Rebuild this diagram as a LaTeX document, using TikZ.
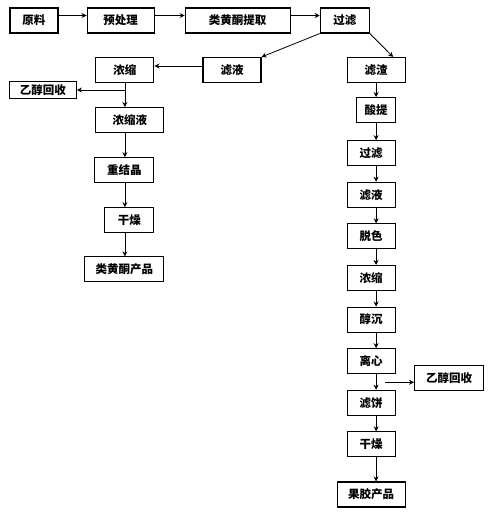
\documentclass[tikz,border=0pt]{standalone}
\usepackage{fontspec}
\usepackage{tikz}
\usetikzlibrary{arrows.meta,positioning}
\newfontfamily\cjk{Noto Sans CJK SC}
\tikzset{
  % Process step box
  pbox/.style={rectangle,draw=black,line width=1.1pt,
    minimum height=25pt,inner sep=0pt,
    font=\cjk\bfseries\fontsize{11.5}{12}\selectfont},
  % Arrows
  arr/.style={-{Stealth[length=5pt,width=5pt]},line width=0.8pt},
}
\begin{document}
\begin{tikzpicture}[x=1pt,y=-1pt]
  \useasboundingbox (0,0) rectangle (488,512);
  % top row
  \node[pbox,minimum width=48pt] (yl) at (34,20.5) {原料};
  \node[pbox,minimum width=67pt,right=28pt of yl] (yucl) {预处理};
  \node[pbox,minimum width=105pt,right=30pt of yucl] (tq) {类黄酮提取};
  \node[pbox,minimum width=49pt,right=29pt of tq] (gl) {过滤};
  % left branch
  \node[pbox,minimum width=58pt] (ly) at (232,70) {滤液};
  \node[pbox,minimum width=58pt,left=48pt of ly] (ns) {浓缩};
  \node[pbox,minimum width=68pt,below=24pt of ns,xshift=5pt] (nsy) {浓缩液};
  \node[pbox,minimum width=59pt,below=24pt of nsy,xshift=-5.5pt] (cjj) {重结晶};
  \node[pbox,minimum width=49pt,below=24pt of cjj,xshift=5pt] (gz) {干燥};
  \node[pbox,minimum width=79pt,below=23pt of gz,xshift=-5pt] (hcp) {类黄酮产品};
  \coordinate (br1) at ([yshift=-7pt]ns.south);
  \node[pbox,minimum width=67pt,minimum height=17pt,left=48pt of br1] (er1) {乙醇回收};
  % right branch
  \node[pbox,minimum width=58pt,right=85pt of ly] (lz) {滤渣};
  \node[pbox,minimum width=39pt,below=14pt of lz] (st) {酸提};
  \node[pbox,minimum width=48pt,below=17pt of st,xshift=-5pt] (gl2) {过滤};
  \node[pbox,minimum width=48pt,below=15.5pt of gl2] (ly2) {滤液};
  \node[pbox,minimum width=48pt,below=15.5pt of ly2] (ts) {脱色};
  \node[pbox,minimum width=48pt,below=15.5pt of ts] (ns2) {浓缩};
  \node[pbox,minimum width=48pt,below=15.5pt of ns2] (cc) {醇沉};
  \node[pbox,minimum width=48pt,below=15.5pt of cc] (lx) {离心};
  \node[pbox,minimum width=48pt,below=15.5pt of lx] (lb) {滤饼};
  \node[pbox,minimum width=48pt,below=15.5pt of lb] (gz2) {干燥};
  \node[pbox,minimum width=68pt,below=24pt of gz2] (gcp) {果胶产品};
  \coordinate (br2) at ([xshift=5pt,yshift=-8pt]lx.south);
  \node[pbox,minimum width=69pt,right=38pt of br2,yshift=4pt] (er2) {乙醇回收};

  \draw[arr] ([yshift=5pt]yl.east) -- ([yshift=5pt]yucl.west);
  \draw[arr] ([yshift=5pt]yucl.east) -- ([yshift=5pt]tq.west);
  \draw[arr] ([yshift=5pt]tq.east) -- ([yshift=5pt]gl.west);
  \draw[arr] (gl.south west) -- (ly.north east);
  \draw[arr] (gl.south east) -- ([xshift=17pt]lz.north);
  \draw[arr] ([yshift=4pt]ly.west) -- ([yshift=4pt]ns.east);
  \draw[arr] (ns.south) -- (ns.south |- nsy.north);
  \draw[arr] (br1) -- (er1.east);
  \foreach \a/\b in {nsy/cjj,cjj/gz,gz/hcp}
    \draw[arr] (ns.south |- \a.south) -- (ns.south |- \b.north);
  \foreach \a/\b in {lz/st,st/gl2,gl2/ly2,ly2/ts,ts/ns2,ns2/cc,cc/lx,lx/lb,lb/gz2,gz2/gcp}
    \draw[arr] (lz.south |- \a.south) -- (lz.south |- \b.north);
  \draw[arr,shorten <=9pt] (br2) -- (br2 -| er2.west);
\end{tikzpicture}
\end{document}
